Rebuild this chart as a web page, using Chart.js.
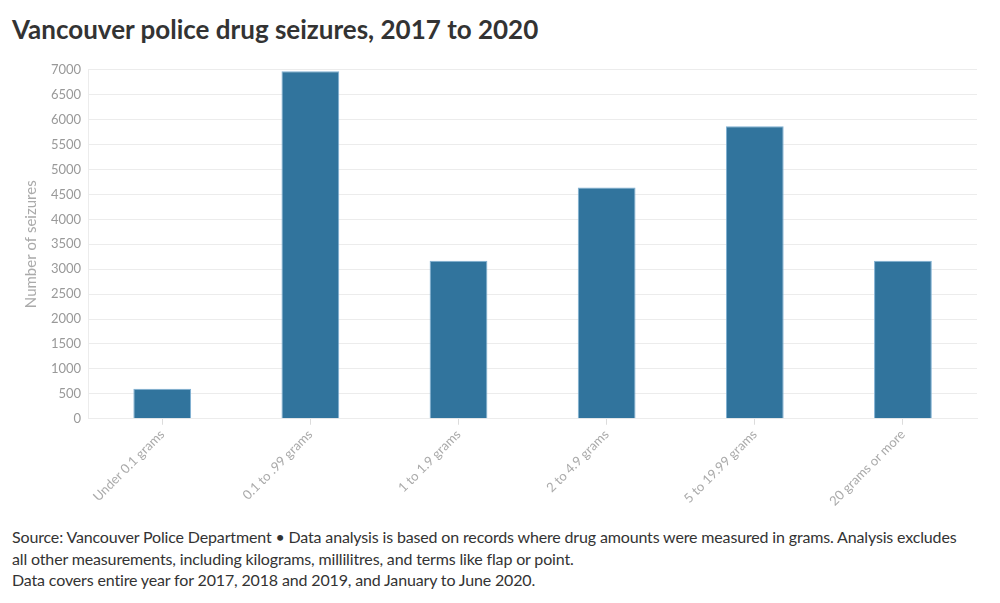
<!DOCTYPE html>
<html>
<head>
<meta charset="utf-8">
<script src="https://cdn.jsdelivr.net/npm/chart.js@4.4.0/dist/chart.umd.min.js"></script>
<style>
    body { margin: 0; background: #fff; font-family: Lato, "Noto Sans", sans-serif; color: #333; }
    #title { position: absolute; left: 12px; top: 13px; font-size: 26px; font-weight: 700; color: #333; margin: 0; }
    #wrap { position: absolute; left: 0; top: 55px; width: 1000px; height: 456px; }
    #notes { position: absolute; left: 12px; top: 526px; width: 962px; font-size: 16px; letter-spacing: -0.15px; line-height: 21.5px; color: #333; }
</style>
</head>
<body>
<h1 id="title">Vancouver police drug seizures, 2017 to 2020</h1>
<div id="wrap"><canvas id="seizureChart"></canvas></div>
<div id="notes">Source: Vancouver Police Department • Data analysis is based on records where drug amounts were measured in grams. Analysis excludes all other measurements, including kilograms, millilitres, and terms like flap or point.<br>Data covers entire year for 2017, 2018 and 2019, and January to June 2020.</div>
<script>
// Seizure counts by amount of drug
const categories = ['Under 0.1 grams', '0.1 to .99 grams', '1 to 1.9 grams', '2 to 4.9 grams', '5 to 19.99 grams', '20 grams or more'];
const seizures = [600, 6970, 3170, 4640, 5870, 3170];
const yTicks = [0, 500, 1000, 1500, 2000, 2500, 3000, 3500, 4000, 4500, 5000, 5500, 6000, 6500, 7000];

const ctx = document.getElementById('seizureChart');
new Chart(ctx, {
    type: 'bar',
    data: {
        labels: categories,
        datasets: [{
            label: 'Number of seizures',
            data: seizures,
            backgroundColor: '#31749d',
            borderColor: '#7fb0d3',
            borderWidth: 1,
            categoryPercentage: 1,
            barPercentage: 0.39
        }]
    },
    options: {
        responsive: true,
        maintainAspectRatio: false,
        animation: false,
        layout: { padding: { top: 6, right: 23, left: 18 } },
        plugins: {
            legend: { display: false },
            tooltip: { enabled: false }
        },
        scales: {
            x: {
                grid: { offset: false, drawOnChartArea: false, drawTicks: true, tickLength: 6, color: '#dcdcdc' },
                border: { color: '#ececec' },
                ticks: {
                    color: '#aaa',
                    font: { family: 'Lato', size: 13 },
                    maxRotation: 45,
                    minRotation: 45,
                    padding: 2
                }
            },
            y: {
                min: 0,
                max: 7000,
                afterBuildTicks: axis => { axis.ticks = yTicks.map(v => ({ value: v })); },
                grid: { color: '#ececec', drawTicks: false },
                border: { color: '#ececec' },
                ticks: {
                    color: '#999',
                    font: { family: 'Lato', size: 13 },
                    padding: 7,
                    callback: v => String(v)
                },
                title: {
                    display: true,
                    text: 'Number of seizures',
                    color: '#aaa',
                    font: { family: 'Lato', size: 15 },
                    padding: { bottom: 4 }
                }
            }
        }
    }
});
</script>
</body>
</html>
